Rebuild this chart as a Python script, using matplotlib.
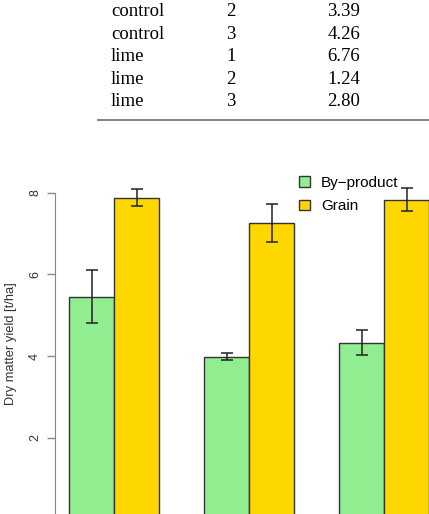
import matplotlib
matplotlib.use("Agg")
import matplotlib.pyplot as plt
from matplotlib.lines import Line2D
from matplotlib.patches import Patch

# table rows shown above the chart
tbl_treat = ["control", "control", "lime", "lime", "lime"]
tbl_block = ["2", "3", "1", "2", "3"]
tbl_yield = ["3.39", "4.26", "6.76", "1.24", "2.80"]

# bar chart values (3 groups, two series)
series = ["By\u2212product", "Grain"]
byproduct = [5.45, 3.98, 4.33]
byproduct_err = [0.65, 0.09, 0.30]
grain = [7.87, 7.26, 7.83]
grain_err = [0.21, 0.46, 0.29]
colors = ["#90EE90", "#FFD700"]

W, H = 429, 514
fig = plt.figure(figsize=(W / 100, H / 100), dpi=100)

# table text (serif, like the document it was cut from)
for i in range(len(tbl_treat)):
    y = 1 - (12 + 22.4 * i) / H
    fig.text(111 / W, y, tbl_treat[i], family="Liberation Serif", fontsize=13.5, va="center", ha="left")
    fig.text(231 / W, y, tbl_block[i], family="Liberation Serif", fontsize=13.5, va="center", ha="center")
    fig.text(344 / W, y, tbl_yield[i], family="Liberation Serif", fontsize=13.5, va="center", ha="center")
fig.add_artist(Line2D([98 / W, 1.0], [1 - 120 / H, 1 - 120 / H], color="#777777", lw=1.3))

# axes placed so that the plot matches the page crop
x0_px, y0_px = 55, 519.4
px_per_x, px_per_y = 45, 40.85
xmin = (x0_px - 24) / px_per_x
xmax = xmin + (445 - x0_px) / px_per_x
ymax = 8.6
ax = fig.add_axes([x0_px / W, (H - y0_px) / H, (445 - x0_px) / W, ymax * px_per_y / H])

pos_b = [1.5 + 3 * i for i in range(3)]
pos_g = [2.5 + 3 * i for i in range(3)]
ekw = dict(ecolor="#222222", elinewidth=1.1, capsize=4, capthick=1.1)
ax.bar(pos_b, byproduct, width=1, color=colors[0], edgecolor="#333333", linewidth=1,
       yerr=byproduct_err, error_kw=ekw)
ax.bar(pos_g, grain, width=1, color=colors[1], edgecolor="#333333", linewidth=1,
       yerr=grain_err, error_kw=ekw)

ax.set_xlim(xmin, xmax)
ax.set_ylim(0, ymax)
for s in ["top", "right", "bottom"]:
    ax.spines[s].set_visible(False)
ax.spines["left"].set_bounds(0, 8)
ax.spines["left"].set_color("#888888")
ax.set_xticks([])
ax.set_yticks([2, 4, 6, 8])
ax.tick_params(axis="y", length=6, width=1, color="#888888", labelsize=9, labelcolor="#333333", pad=4)
for lab in ax.get_yticklabels():
    lab.set_rotation(90)
    lab.set_va("center")
    lab.set_family("Liberation Sans")
ax.set_ylabel("Dry matter yield [t/ha]", fontsize=9.3, color="#333333", labelpad=9,
              family="Liberation Sans")

handles = [Patch(facecolor=colors[i], edgecolor="#333333", label=series[i]) for i in range(2)]
fig.legend(handles=handles, loc="upper left", bbox_to_anchor=(296 / W, 1 - 173 / H),
           frameon=False, handlelength=0.7, handleheight=0.7,
           handletextpad=0.75, labelspacing=0.6, borderaxespad=0, borderpad=0.2,
           prop={"family": "Liberation Sans", "size": 11})

fig.savefig("out.png", dpi=100)
